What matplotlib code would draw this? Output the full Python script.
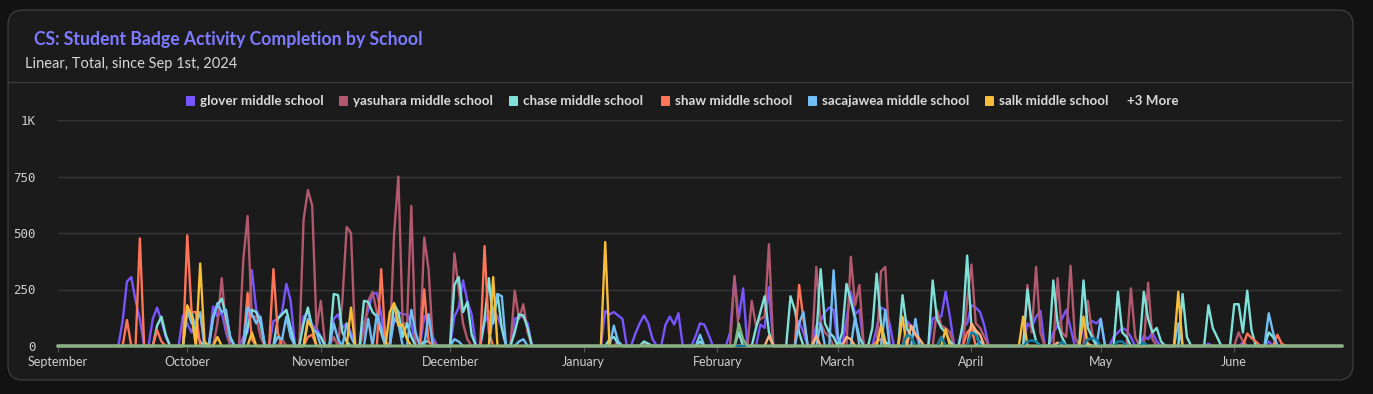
import numpy as np
import pandas as pd
import matplotlib
matplotlib.use("Agg")
import matplotlib.pyplot as plt
import matplotlib.dates as mdates
from matplotlib.patches import FancyBboxPatch

# ---------------- data (day offset from 2024-09-01 : value) ----------------
start_date = "2024-09-01"
end_date = "2025-06-26"

glover = {15:110, 16:285, 17:305, 18:200, 19:120,
          22:120, 23:170, 24:110, 25:40,
          29:135, 30:100, 31:60, 32:120, 33:145,
          36:175, 37:130, 38:150, 39:60,
          43:40, 44:60, 45:335, 46:160, 47:120,
          50:110, 51:120, 52:150, 53:275, 54:200,
          57:130, 58:150, 59:90, 60:80, 61:40,
          64:120, 65:140, 66:80, 67:100, 68:60,
          71:100, 72:160, 73:230, 74:235, 75:140,
          78:120, 79:150, 80:140, 81:140, 82:100,
          85:130, 86:140, 87:40,
          92:130, 93:170, 94:290, 95:200, 96:140,
          99:100, 100:150, 101:160, 102:130, 103:80,
          106:120, 107:130, 108:130, 109:100,
          127:155, 128:140, 129:150, 130:135, 131:120,
          134:55, 135:100, 136:135, 137:100, 138:30,
          141:95, 142:130, 143:95, 144:145,
          148:45, 149:100, 150:95, 151:50,
          156:60, 157:300, 158:120, 159:255,
          163:95, 164:80, 165:260,
          172:110, 173:60,
          176:90, 177:110, 178:150, 179:170, 180:160,
          183:120, 184:240, 185:140, 186:160,
          190:80, 191:170, 192:160, 193:100,
          196:120, 197:110, 198:90, 199:60,
          203:120, 204:130, 205:130, 206:240, 207:130,
          210:80, 211:100, 212:180, 213:170, 214:150, 215:90,
          225:100, 226:80, 227:130, 228:155,
          231:60, 232:90, 233:120, 234:160, 235:80,
          238:100, 239:95, 240:110, 241:100, 242:120,
          245:40, 246:60, 247:80, 248:70, 249:40,
          252:45, 253:30, 254:60, 255:20,
          267:10, 275:15, 281:20}

yasuhara = {37:100, 38:300, 39:80,
            43:380, 44:575, 45:130, 46:130, 47:40,
            52:30,
            57:560, 58:690, 59:620, 60:80, 61:200,
            64:40, 66:200, 67:527, 68:500,
            71:60, 72:200, 73:240, 74:150, 75:60,
            78:495, 79:750, 80:100, 81:100, 82:620,
            85:480, 86:340, 87:20,
            92:410, 93:250, 94:100, 95:30,
            106:245, 107:120, 108:185, 109:60,
            130:20, 136:15,
            157:310, 158:60,
            161:200, 162:90, 163:120, 164:130, 165:450,
            176:350, 177:100, 178:60, 179:40,
            184:395, 185:180, 186:270,
            191:330, 192:350,
            197:100, 198:80, 199:60,
            204:160, 205:90, 206:80, 207:60,
            211:200, 212:360, 213:100, 214:80, 215:40,
            225:270, 226:60, 227:350, 228:60,
            232:300, 233:60, 234:40, 235:355, 236:40,
            239:200, 240:60,
            249:255, 250:40,
            253:280, 254:30,
            274:60, 275:20}

chase = {23:90, 24:130, 25:50,
         30:160, 31:150, 32:60, 33:20,
         36:130, 37:180, 38:210, 39:130, 40:40,
         44:80, 45:160, 46:150, 47:100,
         51:120, 52:140, 53:160, 54:80,
         57:100, 58:170, 59:80, 60:60, 61:40,
         64:230, 65:225, 66:60, 67:20,
         71:200, 72:195, 73:150, 74:130, 75:60,
         78:185, 79:150, 80:40, 81:100, 82:40,
         85:20, 86:20,
         92:270, 93:305, 94:150, 95:195, 96:50,
         99:120, 100:300, 101:100, 102:230, 103:80,
         106:60, 107:140, 108:135, 109:80,
         128:30, 129:40, 130:10, 136:20, 137:10, 149:20,
         158:60,
         162:80, 163:150, 164:220, 165:60,
         170:220, 171:160, 172:60,
         176:40, 177:340, 178:100, 179:60, 180:40,
         182:60, 183:275, 184:200, 185:120, 186:40,
         189:80, 190:320, 191:100, 192:20,
         196:225, 197:80, 198:40,
         203:290, 204:120, 205:80, 206:60, 207:20,
         210:100, 211:400, 212:80, 213:60,
         225:250, 226:100, 227:20,
         231:290, 232:100, 233:40,
         238:290, 239:80, 240:40,
         246:240, 247:60, 248:40,
         252:240, 253:120, 254:60, 255:80, 256:20,
         261:230, 262:40,
         267:180, 268:80, 269:40,
         273:185, 274:185, 275:60, 276:245, 277:70,
         281:60, 282:40}

shaw = {16:115, 19:476,
        23:70, 24:20,
        30:490, 31:150, 32:150,
        44:235, 45:30,
        50:340, 51:60,
        58:40, 59:50,
        75:340, 76:20,
        85:250, 86:20,
        99:442, 100:60,
        172:270, 173:120,
        190:20, 191:30, 205:40, 211:60, 212:80,
        276:55, 277:35, 278:20, 283:50, 284:10}

sacajawea = {30:160, 31:100, 32:100, 33:150,
             36:120, 37:190, 38:150, 39:160, 40:30,
             44:170, 45:140, 46:100, 47:130,
             51:40, 52:30, 53:130, 54:40,
             58:120, 59:80, 60:60,
             64:100, 65:30, 67:100, 68:40,
             72:120, 74:140, 75:80,
             78:120, 79:100, 82:160, 83:60,
             86:140,
             92:30, 93:20,
             101:150, 102:230, 103:220,
             107:20, 108:30,
             129:90, 130:20, 149:50,
             172:100, 173:150,
             177:100, 180:335, 181:40,
             185:130, 192:160, 199:120,
             214:20, 242:120, 260:100,
             281:145, 282:60}

salk = {30:180, 31:130, 33:365, 34:20,
        37:40, 45:60,
        58:110, 59:80,
        68:170,
        77:150, 78:190, 79:90, 80:95, 81:30,
        101:305,
        127:460,
        191:90, 196:130, 206:75,
        224:130, 238:130, 260:240}

light_orange = {165:45, 176:45, 183:40, 184:30, 198:90, 199:50, 200:30,
                212:100, 213:70, 214:50, 232:15, 239:10}

dark_teal = {197:50, 198:40, 205:40, 212:60, 213:50, 225:20, 226:25,
             227:20, 233:20, 239:30, 240:35, 241:30, 246:20, 247:20, 252:15}

green = {158:100, 159:30}

series_names = ["glover middle school", "yasuhara middle school",
                "chase middle school", "shaw middle school",
                "sacajawea middle school", "salk middle school"]
series_data = [glover, yasuhara, chase, shaw, sacajawea, salk]
series_colors = ["#7856FF", "#B2596E", "#80E1D9", "#FF7557", "#72BEF4", "#F8BC3B"]
extra_data = [light_orange, dark_teal, green]
extra_colors = ["#FFB27A", "#0D7EA0", "#7FB77E"]

# ---------------- figure ----------------
W, H = 1373, 394
fig = plt.figure(figsize=(W / 100, H / 100), dpi=100)
fig.patch.set_facecolor("#121212")

def fx(px):
    return px / W

def fy(py):
    return 1 - py / H

card = FancyBboxPatch((fx(8), fy(380)), fx(1353) - fx(8), fy(10) - fy(380),
                      boxstyle="round,pad=0,rounding_size=0.011",
                      transform=fig.transFigure, facecolor="#1b1b1b",
                      edgecolor="#3b3b3b", linewidth=1.0, mutation_aspect=W / H,
                      zorder=-10)
fig.add_artist(card)
fig.add_artist(plt.Line2D([fx(8), fx(1353)], [fy(82), fy(82)],
                          transform=fig.transFigure, color="#3b3b3b", lw=1.0,
                          zorder=-9))

fig.text(fx(34), fy(39), "CS: Student Badge Activity Completion by School",
         color="#7D7BFF", fontsize=12.7, fontweight="bold", family="Lato",
         va="center", ha="left")
fig.text(fx(25), fy(64), "Linear, Total, since Sep 1st, 2024",
         color="#D6D6D6", fontsize=10.5, family="Lato", va="center", ha="left")

# legend
leg_x = [186, 339, 509, 661, 808, 985]
for x0, name, col in zip(leg_x, series_names, series_colors):
    fig.add_artist(FancyBboxPatch((fx(x0), fy(106)), fx(9), fy(96) - fy(106),
                                  boxstyle="round,pad=0,rounding_size=0.001",
                                  transform=fig.transFigure, facecolor=col,
                                  edgecolor="none"))
    fig.text(fx(x0 + 14), fy(101), name, color="#DADADA", fontsize=9.6,
             fontweight="bold", family="Lato", va="center", ha="left")
fig.text(fx(1127), fy(101), "+3 More", color="#DADADA", fontsize=9.6,
         fontweight="bold", family="Lato", va="center", ha="left")

# axes
ax = fig.add_axes([fx(58), fy(346), fx(1342) - fx(58), fy(120) - fy(346)])
ax.set_facecolor("none")
dates = pd.date_range(start_date, end_date, freq="D")
n = len(dates)

def to_array(d):
    arr = np.zeros(n)
    for k, v in d.items():
        if k < n:
            arr[k] = v
    return arr

for d, col in zip(series_data, series_colors):
    ax.plot(dates, to_array(d), color=col, lw=1.7, clip_on=False)
for d, col in zip(extra_data, extra_colors):
    ax.plot(dates, to_array(d), color=col, lw=1.7, clip_on=False)

ax.set_xlim(dates[0], dates[-1])
ax.set_ylim(0, 1000)
ax.set_yticks([0, 250, 500, 750, 1000])
ax.set_yticklabels(["0", "250", "500", "750", "1K"])
ax.grid(axis="y", color="#363636", lw=1.0)
ax.set_axisbelow(True)
ax.xaxis.set_major_locator(mdates.MonthLocator())
ax.xaxis.set_major_formatter(mdates.DateFormatter("%B"))
for s in ax.spines.values():
    s.set_visible(False)
ax.tick_params(axis="y", length=0, pad=16, labelcolor="#CFCFCF", labelsize=9)
ax.tick_params(axis="x", length=4, color="#555555", pad=3,
               labelcolor="#CFCFCF", labelsize=9)
for lab in ax.get_yticklabels():
    lab.set_family("DejaVu Sans Mono")
for lab in ax.get_xticklabels():
    lab.set_family("Lato")

fig.savefig("out.png", dpi=100, facecolor=fig.get_facecolor())
